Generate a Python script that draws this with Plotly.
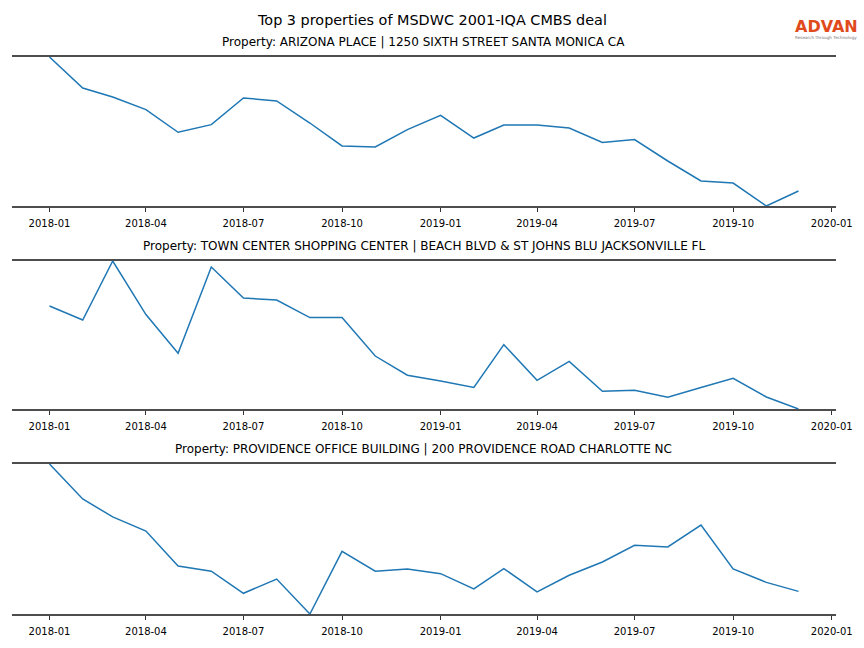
import plotly.graph_objects as go

months = [f"{y}-{m:02d}-01" for y in (2018, 2019) for m in range(1, 13)]

titles = [
    "Property: ARIZONA PLACE | 1250 SIXTH STREET SANTA MONICA CA",
    "Property: TOWN CENTER SHOPPING CENTER | BEACH BLVD & ST JOHNS BLU JACKSONVILLE FL",
    "Property: PROVIDENCE OFFICE BUILDING | 200 PROVIDENCE ROAD CHARLOTTE NC",
]

arizona = [100, 79.2, 73.2, 64.7, 49.5, 54.6, 72.5, 70.5, 55.7, 40.3, 39.6, 51.3,
           60.9, 45.6, 54.4, 54.4, 52.3, 42.6, 44.6, 30.2, 16.8, 15.4, 0, 10.1]
town_center = [69.6, 60.1, 100, 63.8, 37.6, 95.9, 75.0, 73.6, 61.8, 61.8, 35.8, 22.8,
               18.9, 14.5, 43.5, 19.4, 32.2, 12.0, 12.6, 7.9, 14.5, 20.7, 8.1, 0]
providence = [100, 76.7, 64.7, 55.3, 32.0, 28.5, 13.8, 23.3, 0, 41.8, 28.5, 30.0,
              26.9, 16.7, 30.3, 14.7, 25.8, 34.7, 45.8, 44.7, 59.3, 30.0, 21.1, 15.1]

tick_vals = ["2018-01-01", "2018-04-01", "2018-07-01", "2018-10-01", "2019-01-01",
             "2019-04-01", "2019-07-01", "2019-10-01", "2020-01-01"]
tick_text = ["2018-01", "2018-04", "2018-07", "2018-10", "2019-01",
             "2019-04", "2019-07", "2019-10", "2020-01"]

series = [arizona, town_center, providence]

W, H = 864, 648
x_dom = [12 / W, 836 / W]
x_range = ["2017-11-27", "2020-01-05"]
panels_px = [(57, 206), (261, 409), (464, 614)]

fig = go.Figure()
layout = dict(
    width=W, height=H, autosize=False, template="none",
    margin=dict(l=0, r=0, t=0, b=0, pad=0),
    paper_bgcolor="white", plot_bgcolor="white",
    showlegend=False,
    font=dict(family="DejaVu Sans", color="black"),
)

annotations = []
for i, (vals, ttl, (top, bot)) in enumerate(zip(series, titles, panels_px)):
    n = "" if i == 0 else str(i + 1)
    fig.add_trace(go.Scatter(x=months, y=vals, mode="lines",
                             line=dict(color="#1f77b4", width=1.5),
                             xaxis="x" + n, yaxis="y" + n, hoverinfo="skip"))
    layout["xaxis" + n] = dict(
        domain=x_dom, anchor="y" + n, type="date", automargin=False,
        range=x_range, tickvals=tick_vals, ticktext=tick_text,
        ticks="outside", ticklen=4, tickwidth=1, tickcolor="#333333",
        ticklabelstandoff=3,
        tickfont=dict(size=10, color="black"),
        showline=True, linecolor="#4d4d4d", linewidth=1.6, mirror=True,
        showgrid=False, zeroline=False,
    )
    vmin, vmax = min(vals), max(vals)
    layout["yaxis" + n] = dict(
        domain=[1 - bot / H, 1 - top / H], anchor="x" + n, automargin=False,
        range=[vmin, vmax], showticklabels=False, ticks="",
        showgrid=False, zeroline=False, showline=False,
    )
    annotations.append(dict(
        text=ttl, xref="paper", yref="paper",
        x=(x_dom[0] + x_dom[1]) / 2, y=1 - (top - 6) / H,
        xanchor="center", yanchor="bottom", showarrow=False,
        font=dict(size=12, color="black"),
    ))

annotations.append(dict(
    text="Top 3 properties of MSDWC 2001-IQA CMBS deal",
    xref="paper", yref="paper", x=0.5, y=1 - 20 / H,
    xanchor="center", yanchor="middle", showarrow=False,
    font=dict(size=14.4, color="black"),
))
annotations.append(dict(
    text="<b>ADVAN</b>", xref="paper", yref="paper", x=826 / W, y=1 - 27 / H,
    xanchor="center", yanchor="middle", showarrow=False,
    font=dict(size=16, color="#e04a1c", family="DejaVu Sans"),
))
annotations.append(dict(
    text="Research through Technology", xref="paper", yref="paper",
    x=826 / W, y=1 - 37 / H, xanchor="center", yanchor="middle",
    showarrow=False, font=dict(size=4.2, color="#777777"),
))
layout["annotations"] = annotations
fig.update_layout(**layout)

post = ("document.body.style.margin='0px';"
        "document.body.style.overflow='hidden';")
fig.write_html("out.html", config={"responsive": False, "displayModeBar": False},
               post_script=post)
